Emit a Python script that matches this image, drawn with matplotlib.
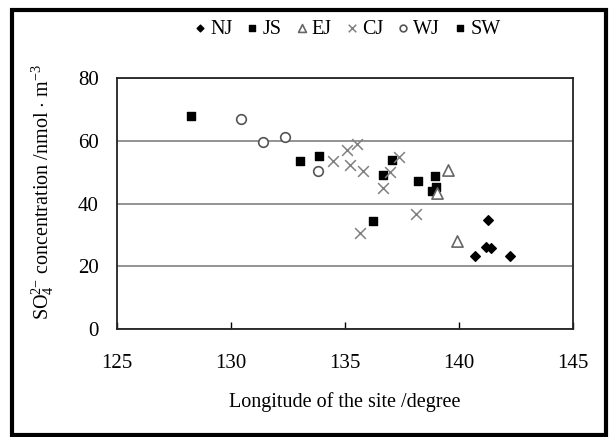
import matplotlib
matplotlib.use('Agg')
import matplotlib.pyplot as plt
from matplotlib.patches import Rectangle

plt.rcParams['font.family'] = ['Liberation Serif', 'DejaVu Serif']
plt.rcParams['mathtext.fontset'] = 'custom'
plt.rcParams['mathtext.rm'] = 'Liberation Serif'
plt.rcParams['mathtext.it'] = 'Liberation Serif:italic'

# SO4 2- concentration vs longitude, per region
nj_lon = [141.27, 141.2, 141.4, 140.72, 142.25]
nj_val = [34.7, 26.1, 25.9, 23.3, 23.4]

js_lon = [137.08, 136.67, 138.21, 138.94, 138.83, 139.0]
js_val = [54.0, 49.2, 47.3, 48.7, 44.1, 45.2]

ej_lon = [139.52, 139.04, 139.89]
ej_val = [50.6, 43.2, 28.1]

cj_lon = [134.48, 135.07, 135.51, 135.21, 135.80, 137.36, 136.97, 136.67, 135.68, 138.13]
cj_val = [53.5, 56.9, 59.0, 52.4, 50.3, 54.8, 50.0, 44.8, 30.7, 36.6]

wj_lon = [130.45, 131.42, 132.38, 133.80]
wj_val = [66.8, 59.7, 61.1, 50.5]

sw_lon = [128.25, 133.03, 133.86, 136.21]
sw_val = [68.0, 53.4, 55.0, 34.5]

xticks = [125, 130, 135, 140, 145]
yticks = [0, 20, 40, 60, 80]

fig = plt.figure(figsize=(6.11, 4.37), dpi=100)
ax = fig.add_axes([0.191, 0.2465, 0.747, 0.5755])

ax.scatter(nj_lon, nj_val, marker='D', s=24, color='black', label='NJ', zorder=3)
ax.scatter(js_lon, js_val, marker='s', s=32, color='black', label='JS', zorder=3)
ax.scatter(ej_lon, ej_val, marker='^', s=65, facecolors='white', edgecolors='#666666',
           linewidths=1.2, label='EJ', zorder=3)
ax.scatter(cj_lon, cj_val, marker='x', s=60, color='#808080', linewidths=1.1, label='CJ', zorder=3)
ax.scatter(wj_lon, wj_val, marker='o', s=48, facecolors='white', edgecolors='#555555',
           linewidths=1.2, label='WJ', zorder=3)
ax.scatter(sw_lon, sw_val, marker='s', s=32, color='black', label='SW', zorder=3)

ax.set_xlim(125, 145)
ax.set_ylim(0, 80)
ax.set_xticks(xticks)
ax.set_yticks(yticks)
ax.tick_params(axis='x', direction='in', length=5, width=1, pad=18, labelsize=15)
ax.tick_params(axis='y', length=0, pad=13, labelsize=15)
ax.grid(axis='y', color='#808080', linewidth=1.2)
ax.set_axisbelow(True)
for s in ax.spines.values():
    s.set_linewidth(1.3)
    s.set_color('#222222')

ax.set_xlabel('Longitude of the site /degree', fontsize=14.5, va='center')
ax.xaxis.set_label_coords(0.5, -0.289)
ax.set_ylabel(r'SO$_4^{2\mathrm{-}}$ concentration /nmol $\cdot$ m$^{\mathrm{-3}}$',
              fontsize=14.5, va='center', ha='center')
ax.yaxis.set_label_coords(-0.1615, 0.546)

fig.legend(loc='center', bbox_to_anchor=(0.565, 1 - 29 / 437), ncol=6, frameon=False,
           fontsize=14.5, handletextpad=0.0, columnspacing=0.5, handlelength=1.0,
           markerscale=0.7)

fig.patches.append(Rectangle((12 / 611, 2 / 437), 594 / 611, 425 / 437, transform=fig.transFigure,
                             fill=False, edgecolor='black', linewidth=3))

fig.savefig('out.png', dpi=100)
